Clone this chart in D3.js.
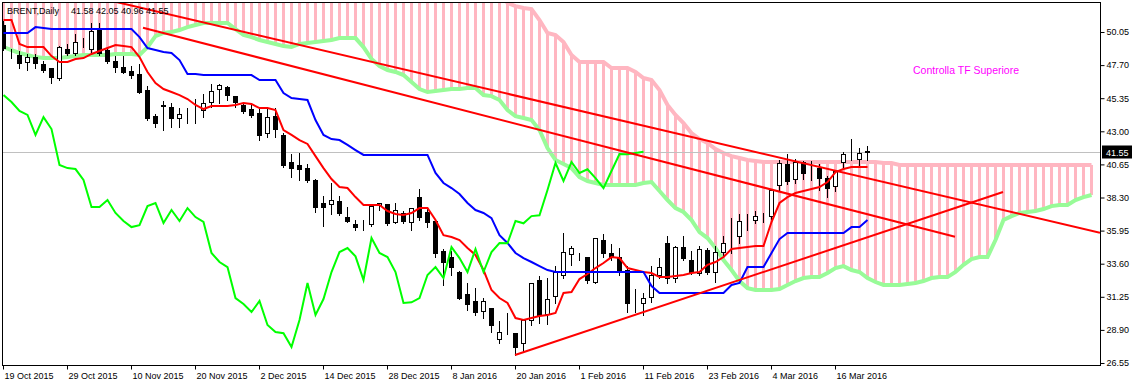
<!DOCTYPE html>
<html>
<head>
<meta charset="utf-8">
<script src="https://cdn.jsdelivr.net/npm/d3@7"></script>
<style>
  body { margin: 0; background: #fff; }
  svg { display: block; }
  text { font-family: "Liberation Sans", Arial, sans-serif; }
</style>
</head>
<body>
<div id="chart"></div>
<script>
// BRENT daily candles, 19 Oct 2015 .. 22 Mar 2016 (bar index 0..108)
const opens = [50.55, 48.56, 48.42, 47.92, 48.27, 47.78, 47.49, 46.78, 48.84, 48.56,
  49.27, 48.84, 50.19, 48.77, 47.99, 47.56, 47.28, 47.07, 45.93, 44.08,
  44.87, 44.72, 43.94, 44.30, 44.37, 44.51, 45.08, 46.00, 46.14, 45.50,
  44.87, 44.58, 44.30, 42.88, 44.08, 42.74, 40.82, 40.61, 40.39, 39.54,
  37.91, 37.84, 38.05, 36.91, 36.42, 36.35, 36.42, 37.77, 37.84, 36.56,
  37.20, 36.56, 38.33, 37.27, 36.63, 34.50, 34.07, 33.01, 31.45, 30.95,
  30.24, 30.45, 28.25, 28.68, 28.68, 27.97, 29.60, 32.44, 30.03, 31.30,
  32.80, 34.29, 34.14, 34.07, 32.30, 35.28, 34.36, 34.07, 33.15, 30.88,
  30.81, 31.23, 32.80, 35.07, 32.58, 34.78, 33.86, 32.94, 34.57, 33.01,
  34.43, 35.07, 35.56, 36.49, 36.70, 37.06, 36.98, 39.19, 40.68, 39.61,
  40.82, 40.32, 40.39, 39.68, 39.11, 40.82, 41.39, 41.03, 41.58];
const highs = [50.90, 48.91, 48.77, 48.56, 48.56, 48.06, 47.56, 49.13, 49.27, 49.98,
  49.69, 50.76, 50.76, 48.91, 48.42, 48.42, 47.70, 47.85, 46.29, 44.30,
  45.22, 45.08, 44.72, 44.72, 45.36, 45.72, 46.43, 46.43, 46.29, 45.57,
  45.08, 45.01, 44.65, 44.72, 44.72, 42.95, 41.46, 41.53, 40.75, 39.68,
  38.48, 39.40, 38.48, 37.69, 36.77, 36.77, 37.84, 37.98, 37.91, 37.98,
  37.41, 37.62, 38.97, 37.55, 36.70, 34.71, 34.57, 33.15, 32.30, 31.94,
  31.23, 30.52, 29.60, 30.17, 28.75, 29.74, 32.30, 32.80, 32.65, 33.52,
  35.85, 34.92, 34.43, 34.10, 35.49, 35.78, 35.07, 34.78, 33.52, 31.87,
  31.59, 33.52, 34.07, 35.63, 34.92, 35.63, 34.57, 34.92, 34.78, 34.92,
  35.63, 36.91, 37.20, 37.20, 37.41, 37.27, 38.97, 41.03, 41.46, 41.10,
  40.96, 40.96, 40.75, 39.90, 40.32, 41.60, 42.52, 41.88, 42.05];
const lows = [48.77, 48.20, 47.49, 47.35, 47.49, 47.21, 46.43, 46.64, 48.42, 48.42,
  48.98, 48.56, 48.42, 47.85, 47.21, 47.14, 46.78, 45.72, 43.80, 43.30,
  43.09, 43.30, 43.30, 43.59, 43.59, 44.01, 44.72, 45.01, 45.22, 44.72,
  44.30, 44.01, 42.38, 42.59, 42.59, 40.46, 39.75, 39.54, 39.40, 37.27,
  36.27, 37.13, 37.06, 36.56, 35.99, 35.99, 36.27, 37.41, 36.35, 36.49,
  36.49, 35.99, 36.70, 36.20, 34.07, 32.09, 32.80, 31.09, 30.31, 29.96,
  29.74, 28.75, 27.97, 28.61, 27.12, 27.33, 29.25, 29.39, 29.32, 30.81,
  32.58, 33.52, 33.86, 32.23, 32.23, 34.07, 33.86, 32.80, 30.17, 30.17,
  29.96, 30.88, 32.58, 32.23, 32.30, 33.86, 32.87, 32.80, 32.87, 32.30,
  34.07, 34.36, 35.07, 35.99, 36.49, 36.56, 36.77, 38.83, 39.26, 39.33,
  39.61, 39.54, 38.83, 38.33, 38.76, 40.39, 40.96, 40.46, 40.96];
const closes = [48.91, 48.53, 47.85, 48.27, 47.85, 47.35, 46.85, 48.98, 48.56, 49.34,
  49.25, 50.12, 48.56, 47.99, 47.56, 47.21, 46.99, 45.79, 43.94, 43.59,
  44.79, 43.94, 44.23, 44.28, 44.35, 45.01, 45.86, 46.29, 45.57, 45.08,
  44.44, 44.16, 42.74, 44.01, 43.16, 40.61, 40.39, 40.32, 39.54, 37.62,
  37.62, 38.12, 37.20, 36.63, 36.20, 36.33, 37.69, 37.91, 36.49, 37.41,
  36.63, 37.55, 36.91, 36.56, 34.36, 33.72, 33.36, 31.16, 30.74, 30.17,
  30.95, 29.25, 28.75, 28.66, 27.68, 29.60, 32.23, 29.96, 31.09, 33.01,
  34.43, 34.71, 34.12, 32.44, 35.42, 34.36, 34.07, 33.01, 30.81, 30.86,
  31.16, 32.80, 33.36, 32.58, 34.78, 34.00, 33.01, 34.64, 33.01, 34.43,
  35.07, 35.05, 36.63, 36.47, 36.98, 37.04, 38.83, 40.75, 39.47, 40.82,
  40.04, 40.30, 39.68, 38.97, 40.18, 41.39, 41.37, 41.46, 41.55];

// Ichimoku lines
const tenkan = [50.90, 50.90, 49.20, 48.98, 48.98, 48.98, 48.34, 47.92, 47.92, 48.13,
  48.20, 48.49, 48.70, 48.91, 49.13, 49.05, 48.98, 48.27, 47.21, 46.43,
  46.00, 45.79, 45.57, 45.29, 44.87, 44.58, 44.79, 44.79, 44.79, 44.87,
  45.01, 44.94, 44.65, 44.65, 44.51, 43.09, 42.74, 42.38, 42.10, 41.24,
  40.39, 39.61, 39.04, 38.97, 38.33, 37.77, 37.77, 37.77, 37.34, 37.13,
  37.06, 37.20, 37.55, 37.55, 36.70, 35.63, 35.49, 35.28, 34.71, 34.22,
  33.15, 31.73, 31.16, 30.81, 29.74, 29.60, 29.74, 29.88, 29.96, 30.10,
  31.52, 31.59, 32.51, 32.87, 33.29, 33.65, 34.07, 34.00, 33.29, 33.15,
  33.01, 32.94, 32.65, 32.65, 32.72, 32.80, 32.94, 33.01, 33.52, 33.72,
  34.07, 34.64, 34.71, 34.78, 34.85, 34.85, 36.56, 37.91, 38.33, 38.62,
  38.76, 38.90, 39.04, 39.40, 40.11, 40.32, 40.46, 40.46, 40.46];
const kijun = [49.98, 49.98, 49.98, 49.98, 50.40, 50.33, 50.26, 50.26, 50.26, 50.26,
  50.26, 50.26, 50.26, 50.26, 50.26, 50.26, 50.26, 49.69, 48.91, 48.77,
  48.63, 48.56, 48.06, 47.07, 47.07, 46.99, 46.99, 46.99, 46.99, 46.99,
  46.99, 46.99, 46.64, 46.64, 46.64, 45.72, 45.36, 45.29, 45.22, 43.80,
  42.74, 42.45, 42.38, 42.03, 41.67, 41.32, 41.32, 41.32, 41.32, 41.32,
  41.32, 41.32, 41.32, 41.32, 40.04, 39.33, 38.97, 38.55, 37.91, 37.41,
  37.20, 36.84, 35.63, 35.07, 34.36, 34.00, 33.72, 33.43, 33.15, 33.01,
  33.01, 33.01, 33.01, 33.01, 33.01, 33.01, 33.01, 33.01, 33.01, 33.01,
  33.01, 32.01, 31.52, 31.52, 31.52, 31.52, 31.52, 31.52, 31.52, 31.52,
  31.52, 32.09, 32.23, 33.36, 33.36, 33.36, 34.36, 35.35, 35.78, 35.78,
  35.78, 35.78, 35.78, 35.78, 35.78, 35.78, 36.20, 36.20, 36.70];
const spanA = [48.98, 48.77, 48.56, 48.42, 48.27, 48.20, 48.20, 48.20, 48.27, 48.34,
  48.42, 48.42, 48.42, 48.42, 48.49, 48.49, 48.49, 48.42, 48.98, 49.76,
  49.98, 50.05, 50.19, 50.40, 50.55, 50.69, 50.69, 50.69, 50.69, 50.26,
  49.84, 49.69, 49.48, 49.34, 49.20, 49.05, 48.98, 49.20, 49.27, 49.34,
  49.41, 49.48, 49.62, 49.62, 49.62, 48.98, 48.13, 47.63, 47.35, 47.21,
  46.99, 46.50, 46.00, 45.79, 45.86, 45.93, 46.00, 46.00, 46.07, 46.07,
  45.57, 45.50, 45.22, 44.51, 44.08, 43.94, 43.80, 43.09, 41.81, 40.96,
  40.68, 40.39, 39.75, 39.47, 39.33, 39.19, 39.19, 39.19, 39.19, 39.19,
  39.33, 39.40, 38.76, 38.12, 37.55, 37.27, 36.70, 35.85, 35.42, 34.71,
  33.86, 33.15, 32.37, 31.87, 31.73, 31.73, 31.73, 31.80, 32.09, 32.37,
  32.58, 32.65, 32.65, 32.94, 33.29, 33.43, 33.15, 33.01, 32.58, 32.30,
  32.09, 32.09, 32.09, 32.16, 32.23, 32.37, 32.58, 32.65, 32.65, 33.01,
  33.52, 33.93, 34.07, 34.07, 35.28, 36.70, 36.98, 37.20, 37.27, 37.34,
  37.48, 37.69, 37.77, 37.77, 38.12, 38.33, 38.48];
// span B sits above the visible range until bar 63 (values estimated)
const spanB = [55.80, 55.80, 55.80, 55.80, 55.80, 55.80, 55.80, 55.80, 55.80, 55.80,
  55.80, 55.80, 55.80, 55.80, 55.80, 55.80, 55.80, 55.80, 55.80, 55.80,
  55.80, 55.10, 55.10, 55.10, 55.10, 55.10, 55.10, 55.10, 55.10, 55.10,
  55.10, 55.10, 55.10, 55.10, 55.10, 55.10, 55.10, 55.10, 55.10, 55.10,
  55.10, 54.30, 54.30, 54.30, 54.30, 54.30, 54.30, 54.30, 54.30, 54.30,
  54.30, 54.30, 54.30, 54.30, 54.30, 54.30, 53.20, 53.20, 53.20, 53.20,
  53.20, 53.20, 53.20, 52.11, 51.89, 51.75, 51.68, 50.90, 49.98, 49.84,
  49.34, 48.42, 47.92, 47.92, 47.92, 47.92, 47.49, 47.49, 47.49, 47.21,
  46.78, 46.64, 45.93, 44.87, 44.16, 43.59, 42.88, 42.45, 42.17, 41.74,
  41.46, 41.24, 41.10, 40.96, 40.89, 40.82, 40.82, 40.82, 40.82, 40.82,
  40.82, 40.82, 40.82, 40.82, 40.82, 40.82, 40.82, 40.82, 40.82, 40.82,
  40.75, 40.75, 40.61, 40.61, 40.61, 40.61, 40.61, 40.61, 40.61, 40.61,
  40.61, 40.61, 40.61, 40.61, 40.61, 40.61, 40.61, 40.61, 40.61, 40.61,
  40.61, 40.61, 40.61, 40.61, 40.61, 40.61, 40.61];
const chikouLag = 28;

// hand drawn trend lines: [bar, price] end points
const trendLines = [
  [[-1, 54.20], [137.125, 35.80]],
  [[17.5, 50.35], [119, 35.51]],
  [[64, 27.12], [125, 38.69]]
];

const priceTicks = [50.05, 47.70, 45.35, 43.00, 40.65, 38.30, 35.95, 33.60, 31.25, 28.90, 26.55];
const dateTickBars = [0, 8, 16, 24, 32, 40, 48, 56, 64, 72, 80, 88, 96, 104];
const dateTickLabels = ["19 Oct 2015", "29 Oct 2015", "10 Nov 2015", "20 Nov 2015", "2 Dec 2015",
  "14 Dec 2015", "28 Dec 2015", "8 Jan 2016", "20 Jan 2016", "1 Feb 2016", "11 Feb 2016",
  "23 Feb 2016", "4 Mar 2016", "16 Mar 2016"];
const symbolName = "BRENT,Daily";
const lastQuote = [41.58, 42.05, 40.96, 41.55];
const bidPrice = 41.55;
const note = "Controlla TF Superiore";

const width = 1141, height = 386;
const plot = { left: 2, top: 2, right: 1100, bottom: 365 };

const x = d3.scaleLinear().domain([-0.125, 137.125]).range([plot.left, plot.right]);
const y = d3.scaleLinear().domain([26.408, 52.18]).range([plot.bottom, plot.top]);
const cx = (i) => Math.round(x(i)) + 0.5;
const cy = (p) => Math.round(y(p)) + 0.5;

const svg = d3.select("#chart").append("svg")
  .attr("width", width)
  .attr("height", height);

svg.append("defs").append("clipPath").attr("id", "plot-clip")
  .append("rect")
  .attr("x", plot.left + 1).attr("y", plot.top + 1)
  .attr("width", plot.right - plot.left - 1)
  .attr("height", plot.bottom - plot.top - 1);

const body = svg.append("g").attr("clip-path", "url(#plot-clip)");

// kumo: vertical hatch between span A and span B
const cloud = spanA.map((a, i) => ({ i: i, a: a, b: spanB[i] }));
body.append("g")
  .selectAll("line")
  .data(cloud)
  .join("line")
  .attr("x1", (d) => cx(d.i))
  .attr("x2", (d) => cx(d.i))
  .attr("y1", (d) => y(d.a))
  .attr("y2", (d) => y(d.b))
  .attr("stroke", "#FFB6C1")
  .attr("stroke-width", 3);

const lineOf = (arr, offset) => d3.line()
  .x((d, i) => cx(i + offset))
  .y((d) => y(d))(arr);

body.append("path").attr("d", lineOf(spanA, 0))
  .attr("fill", "none").attr("stroke", "#98FB98").attr("stroke-width", 4);
body.append("path").attr("d", lineOf(spanB, 0))
  .attr("fill", "none").attr("stroke", "#FFB6C1").attr("stroke-width", 4);

// bid line
body.append("line")
  .attr("x1", plot.left).attr("x2", plot.right)
  .attr("y1", cy(bidPrice)).attr("y2", cy(bidPrice))
  .attr("stroke", "#C0C0C0").attr("stroke-width", 1);

// candles
const bars = opens.map((o, i) => ({ i: i, o: o, h: highs[i], l: lows[i], c: closes[i] }));
const candle = body.append("g").attr("shape-rendering", "crispEdges")
  .selectAll("g")
  .data(bars)
  .join("g");

candle.append("line")
  .attr("x1", (d) => cx(d.i)).attr("x2", (d) => cx(d.i))
  .attr("y1", (d) => cy(d.h)).attr("y2", (d) => cy(d.l) + 0.5)
  .attr("stroke", "#000");

candle.append("rect")
  .attr("x", (d) => cx(d.i) - 2)
  .attr("y", (d) => cy(Math.max(d.o, d.c)))
  .attr("width", 4)
  .attr("height", (d) => Math.max(0, cy(Math.min(d.o, d.c)) - cy(Math.max(d.o, d.c))))
  .attr("fill", (d) => (d.c > d.o ? "#fff" : "#000"))
  .attr("stroke", "#000");

// tenkan / kijun / chikou
body.append("path").attr("d", lineOf(tenkan, 0))
  .attr("fill", "none").attr("stroke", "#FF0000").attr("stroke-width", 2);
body.append("path").attr("d", lineOf(kijun, 0))
  .attr("fill", "none").attr("stroke", "#0000FF").attr("stroke-width", 2);
body.append("path").attr("d", lineOf(closes.slice(chikouLag), 0))
  .attr("fill", "none").attr("stroke", "#00FF00").attr("stroke-width", 2);

// trend lines
body.append("g")
  .selectAll("line")
  .data(trendLines)
  .join("line")
  .attr("x1", (d) => x(d[0][0])).attr("y1", (d) => y(d[0][1]))
  .attr("x2", (d) => x(d[1][0])).attr("y2", (d) => y(d[1][1]))
  .attr("stroke", "#FF0000").attr("stroke-width", 2);

// frame
svg.append("rect")
  .attr("x", plot.left + 0.5).attr("y", plot.top + 0.5)
  .attr("width", plot.right - plot.left).attr("height", plot.bottom - plot.top)
  .attr("fill", "none").attr("stroke", "#000");

// price axis
const yAxis = svg.append("g")
  .attr("transform", `translate(${plot.right + 0.5},0)`)
  .call(d3.axisRight(y).tickValues(priceTicks).tickFormat(d3.format(".2f")).tickSize(4).tickPadding(2));
yAxis.select(".domain").remove();
yAxis.selectAll("text").attr("font-size", 9).attr("font-family", "Liberation Sans, Arial, sans-serif").attr("fill", "#000");
yAxis.selectAll("line").attr("stroke", "#000");

// date axis
const xAxis = svg.append("g")
  .attr("transform", `translate(0,${plot.bottom + 0.5})`)
  .call(d3.axisBottom(x).tickValues(dateTickBars)
    .tickFormat((d, i) => dateTickLabels[i]).tickSize(4).tickPadding(3));
xAxis.select(".domain").remove();
xAxis.selectAll(".tick").attr("transform", (d) => `translate(${cx(d)},0)`);
xAxis.selectAll("text").attr("text-anchor", "start").attr("x", 1)
  .attr("font-size", 9).attr("font-family", "Liberation Sans, Arial, sans-serif").attr("fill", "#000");
xAxis.selectAll("line").attr("stroke", "#000");

// bid price label
const bidY = cy(bidPrice);
svg.append("rect")
  .attr("x", plot.right + 2).attr("y", bidY - 7)
  .attr("width", 30).attr("height", 13)
  .attr("fill", "#000");
svg.append("text")
  .attr("x", plot.right + 6).attr("y", bidY + 3.5)
  .attr("font-size", 9).attr("fill", "#fff")
  .text(bidPrice.toFixed(2));

// header and note
const header = svg.append("text")
  .attr("y", 14)
  .attr("font-size", 9).attr("fill", "#000");
header.append("tspan").attr("x", 7).text(symbolName);
header.append("tspan").attr("x", 71).text(lastQuote.map((v) => v.toFixed(2)).join(" "));

svg.append("text")
  .attr("x", 913).attr("y", 74)
  .attr("font-size", 10.5).attr("fill", "#FF00FF")
  .text(note);
</script>
</body>
</html>
